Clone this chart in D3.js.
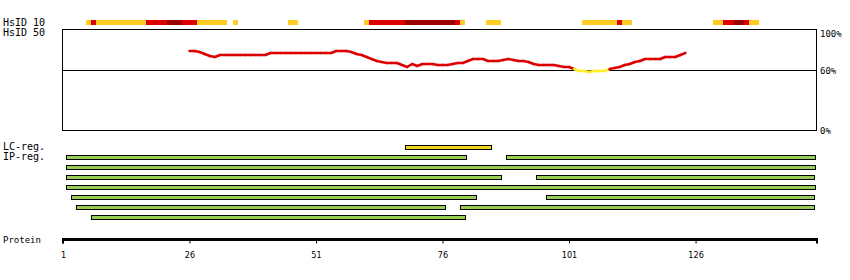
<!DOCTYPE html>
<html>
<head>
<meta charset="utf-8">
<script src="https://cdn.jsdelivr.net/npm/d3@7/dist/d3.min.js"></script>
<style>
  body { margin: 0; background: #fff; }
  svg text { font-family: "DejaVu Sans Mono", monospace; font-size: 10px; fill: #000; }
  .tick text { font-family: "Liberation Sans Narrow", "DejaVu Sans Condensed", sans-serif; font-size: 9px; }
</style>
</head>
<body>
<div id="chart"></div>
<script>
var WIDTH = 850;
var HEIGHT = 280;

var PROTEIN_LENGTH = 150;
var tickValues = [1, 26, 51, 76, 101, 126];
var percentTicks = [100, 60, 0];
var THRESHOLD = 60;

// HsID 10 strip, runs of residues (inclusive) and their level
// level 1 = orange, 2 = red, 3 = dark red
var hsid10Start = [6, 7, 8, 18, 22, 25, 28, 35, 46, 61, 62, 69, 79, 80, 85, 104, 111, 112, 130, 132, 134, 136, 137];
var hsid10End = [6, 7, 17, 21, 24, 27, 33, 35, 47, 61, 68, 78, 79, 80, 87, 110, 111, 113, 131, 133, 135, 136, 138];
var hsid10Level = [1, 2, 1, 2, 3, 2, 1, 1, 1, 1, 2, 3, 2, 1, 1, 1, 2, 1, 1, 2, 3, 2, 1];

// HsID 50 identity (%) per residue, first value is residue 26
var hsid50First = 26;
var hsid50Values = [
  79, 79, 78, 76, 74, 73, 75, 75, 75, 75, 75, 75, 75, 75, 75, 75, 77, 77, 77, 77,
  77, 77, 77, 77, 77, 77, 77, 77, 77, 79, 79, 79, 78, 76, 75, 73, 71, 69, 68, 67,
  67, 67, 65, 63, 66, 64, 66, 66, 66, 65, 65, 65, 66, 67, 67, 69, 71, 71, 71, 69,
  69, 69, 70, 71, 70, 69, 69, 68, 66, 65, 65, 65, 65, 64, 63, 63, 61, 59, 59, 58,
  59, 59, 59, 61, 62, 63, 65, 66, 68, 69, 71, 71, 71, 71, 73, 73, 73, 75, 77
];

// low complexity region
var lcStart = [69];
var lcEnd = [85];

// interacting partner regions, one row each
var ipRow = [0, 0, 1, 2, 2, 3, 4, 4, 5, 5, 6];
var ipStart = [2, 89, 2, 2, 95, 2, 3, 97, 4, 80, 7];
var ipEnd = [80, 149, 149, 87, 149, 149, 82, 149, 76, 149, 80];

var levelColors = { 1: "#ffcc22", 2: "#dd0000", 3: "#990000" };

var STRIP_Y = 20;
var STRIP_H = 5;
var PLOT_TOP = 30;
var PLOT_BOTTOM = 130;
var LC_Y = 145;
var IP_Y = 155;
var ROW_STEP = 10;
var BAR_H = 4;
var AXIS_Y = 239.5;
var LABEL_X = 3;

var x = d3.scaleLinear().domain([1, PROTEIN_LENGTH]).range([63, 817]);
var y = d3.scaleLinear().domain([0, 100]).range([PLOT_BOTTOM, PLOT_TOP]);

var svg = d3.select("#chart").append("svg")
  .attr("width", WIDTH)
  .attr("height", HEIGHT);

function cellLeft(s) { return x(s - 0.5); }
function cellWidth(s, e) { return x(e + 0.5) - x(s - 0.5); }

// left hand labels
var labels = [
  { text: "HsID 10", y: STRIP_Y + 6 },
  { text: "HsID 50", y: PLOT_TOP + 6 },
  { text: "LC-reg.", y: LC_Y + 5 },
  { text: "IP-reg.", y: IP_Y + 5 },
  { text: "Protein", y: AXIS_Y + 3 }
];
svg.selectAll(".label")
  .data(labels)
  .enter()
  .append("text")
  .attr("class", "label")
  .attr("x", LABEL_X)
  .attr("y", function(d) { return d.y; })
  .style("font-size", function(d) { return d.text === "Protein" ? "9px" : null; })
  .text(function(d) { return d.text; });

// HsID 10 strip
svg.append("g").selectAll("rect")
  .data(hsid10Start)
  .enter()
  .append("rect")
  .attr("x", function(d) { return cellLeft(d); })
  .attr("y", STRIP_Y)
  .attr("width", function(d, i) { return cellWidth(d, hsid10End[i]); })
  .attr("height", STRIP_H)
  .attr("fill", function(d, i) { return levelColors[hsid10Level[i]]; })
  .attr("shape-rendering", "crispEdges");

// identity plot frame
var x0 = Math.round(x(1)) - 0.5;
var x1 = Math.round(x(PROTEIN_LENGTH)) - 0.5;
svg.append("rect")
  .attr("x", x0)
  .attr("y", y(100) - 0.5)
  .attr("width", x1 - x0)
  .attr("height", y(0) - y(100) + 1)
  .attr("fill", "none")
  .attr("stroke", "#000")
  .attr("stroke-width", 1);

svg.append("line")
  .attr("x1", x0)
  .attr("x2", x1)
  .attr("y1", Math.round(y(THRESHOLD)) + 0.5)
  .attr("y2", Math.round(y(THRESHOLD)) + 0.5)
  .attr("stroke", "#000");

svg.selectAll(".pct")
  .data(percentTicks)
  .enter()
  .append("text")
  .attr("class", "pct")
  .attr("x", x(PROTEIN_LENGTH) + 3)
  .attr("y", function(d) { return y(d) + (d === 100 ? 7 : 4); })
  .style("font-size", "9px")
  .text(function(d) { return d + "%"; });

// identity line, coloured per segment (yellow below threshold)
var segments = [];
for (var i = 0; i < hsid50Values.length - 1; i++) {
  segments.push({
    p0: hsid50First + i,
    p1: hsid50First + i + 1,
    v0: hsid50Values[i],
    v1: hsid50Values[i + 1]
  });
}
svg.append("g").selectAll("line")
  .data(segments)
  .enter()
  .append("line")
  .attr("x1", function(d) { return x(d.p0); })
  .attr("x2", function(d) { return x(d.p1); })
  .attr("y1", function(d) { return y(d.v0); })
  .attr("y2", function(d) { return y(d.v1); })
  .attr("stroke", function(d) {
    return Math.min(d.v0, d.v1) < THRESHOLD ? "#ffee22" : "#dd0000";
  })
  .attr("stroke-width", 2.5)
  .attr("stroke-linecap", "round");

// LC region
svg.append("g").selectAll("rect")
  .data(lcStart)
  .enter()
  .append("rect")
  .attr("x", function(d) { return Math.round(cellLeft(d)) + 0.5; })
  .attr("y", LC_Y + 0.5)
  .attr("width", function(d, i) { return Math.round(cellWidth(d, lcEnd[i])); })
  .attr("height", BAR_H)
  .attr("fill", "#eed322")
  .attr("stroke", "#000");

// IP regions
svg.append("g").selectAll("rect")
  .data(ipStart)
  .enter()
  .append("rect")
  .attr("x", function(d) { return Math.round(cellLeft(d)) + 0.5; })
  .attr("y", function(d, i) { return IP_Y + ipRow[i] * ROW_STEP + 0.5; })
  .attr("width", function(d, i) { return Math.round(cellWidth(d, ipEnd[i])); })
  .attr("height", BAR_H)
  .attr("fill", "#99cc55")
  .attr("stroke", "#000");

// protein axis
var axis = d3.axisBottom(x)
  .tickValues(tickValues)
  .tickSize(4)
  .tickSizeOuter(0)
  .tickPadding(8);
var ag = svg.append("g")
  .attr("transform", "translate(0," + AXIS_Y + ")")
  .call(axis);
ag.select(".domain").remove();
ag.append("line")
  .attr("x1", x(1))
  .attr("x2", x(PROTEIN_LENGTH))
  .attr("stroke", "#000")
  .attr("stroke-width", 3);
ag.selectAll(".end-tick")
  .data([1, PROTEIN_LENGTH])
  .enter()
  .append("line")
  .attr("class", "end-tick")
  .attr("x1", function(d) { return x(d); })
  .attr("x2", function(d) { return x(d); })
  .attr("y1", -1.5)
  .attr("y2", 4)
  .attr("stroke", "#000")
  .attr("stroke-width", 2);
</script>
</body>
</html>
